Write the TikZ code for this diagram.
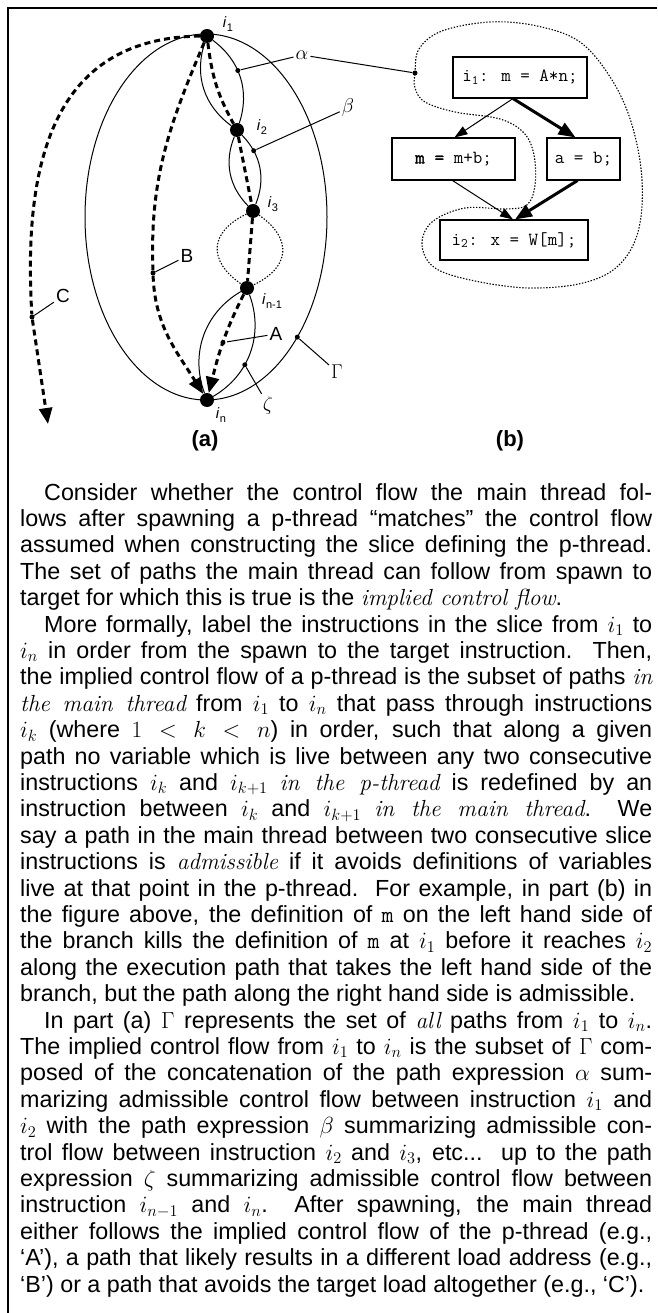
\documentclass[tikz,border=0pt]{standalone}
\usepackage{fix-cm}
\usepackage[no-math]{fontspec}
\setsansfont{Liberation Sans}
\newfontfamily\ttbold{lmmono10-regular.otf}[FakeBold=1.6]
\usetikzlibrary{arrows.meta}
\newlength\tw \setlength\tw{632pt}
\newlength\pind \setlength\pind{24pt}
\newcommand\jl[1]{\hbox to \tw{#1}}
\newcommand\el[1]{\hbox to \tw{#1\hfil}}
\newcommand\emi[1]{{\rmfamily\itshape #1}}
\newcommand\ilabel[1]{\textit{i}\kern0.3pt\raisebox{-3.5pt}{\fontsize{11}{11}\selectfont #1}}
\begin{document}
\begin{tikzpicture}[x=1pt,y=1pt,
  bigdot/.style={circle,fill=black,inner sep=0,minimum size=14pt},
  smalldot/.style={circle,fill=black,inner sep=0,minimum size=5pt},
  thinline/.style={line width=1pt},
  leader/.style={line width=1pt},
  dpath/.style={line width=3pt,dash pattern=on 6pt off 4pt},
  dotline/.style={line width=1.1pt,dash pattern=on 1.4pt off 1.6pt},
  bigtip/.style={-{Triangle[length=16pt,width=13pt]}},
  ilab/.style={font=\sffamily\fontsize{15}{15}\selectfont,inner sep=0},
  plab/.style={font=\sffamily\fontsize{19}{19}\selectfont,inner sep=2pt},
  glab/.style={font=\fontsize{20}{20}\selectfont,inner sep=2pt},
  captxt/.style={font=\sffamily\bfseries\fontsize{22}{22}\selectfont},
  cfg/.style={draw,line width=1.1pt,inner sep=0,font=\ttfamily\fontsize{18.5}{18.5}\selectfont},
  cfgthin/.style={line width=1pt,-{Triangle[length=13pt,width=9pt]}},
  cfgthick/.style={line width=3pt,-{Triangle[length=17pt,width=13pt]}}
]
\useasboundingbox (0,0) rectangle (657,-1313);
% frame
\draw[line width=2.6pt] (8,-1313) -- (8,-8) -- (657,-8);

% ---------- part (a) ----------
\draw[thinline] (206,-217) ellipse [x radius=121, y radius=183];
\node[smalldot] (gdot) at (297.3,-337.1) {};

\node[bigdot] (i1) at (207,-36) {};
\node[bigdot] (i2) at (237,-130) {};
\node[bigdot] (i3) at (253,-211) {};
\node[bigdot] (in1) at (247,-288) {};
\node[bigdot] (in) at (207,-400) {};

\node[ilab] (li1) at (228,-24) {\ilabel{1}};
\node[ilab] (li2) at (262,-127) {\ilabel{2}};
\node[ilab] (li3) at (273,-204) {\ilabel{3}};
\node[ilab] (lin1) at (272,-301) {\ilabel{n-1}};
\node[ilab] (lin) at (221,-415) {\ilabel{n}};

% alpha lens
\draw[thinline] (i1) to[out=251.7,in=143.7] (i2);
\draw[thinline] (i1) to[out=323.7,in=71.7] node[smalldot,pos=0.42] (adot) {} (i2);
% beta lens
\draw[thinline] (i2) to[out=248.2,in=134.2] (i3);
\draw[thinline] (i2) to[out=314.2,in=68.2] node[smalldot,pos=0.25] (bdot) {} (i3);
% dotted lens
\draw[dotline] (i3) to[out=205.5,in=145.5,looseness=1.5] (in1);
\draw[dotline] (i3) to[out=325.5,in=25.5,looseness=1.5] (in1);
% zeta lens
\draw[thinline] (in1) to[out=210.3,in=110.3] (in);
\draw[thinline] (in1) to[out=290.3,in=30.3] node[smalldot,pos=0.62] (zdot) {} (in);

% path A
\draw[dpath,bigtip] (i1) to[out=277,in=119] (i2) -- (i3) -- (in1)
   to[out=243,in=76] node[smalldot,pos=0.5] (Adot) {} (in);
% path B
\node[smalldot] (Bdot) at (153,-273) {};
\draw[dpath] (i1) to[out=247,in=92] (Bdot);
\draw[dpath,bigtip] (Bdot) to[out=272,in=122] (in);
% path C
\node[smalldot] (Cdot) at (32,-317) {};
\coordinate (Cend) at (48,-424);
\draw[dpath] (i1) .. controls (60,-38) and (22,-150) .. (Cdot);
\draw[dpath,bigtip] (Cdot) -- (Cend);

% labels
\node[glab] (alab) at (302,-55) {$\alpha$};
\node[glab] (blab) at (348,-108) {$\beta$};
\node[glab] (Glab) at (337,-372) {$\Gamma$};
\node[glab] (zlab) at (268,-405) {$\zeta$};
\node[plab] (Alab) at (276,-334) {A};
\node[plab] (Blab) at (187,-256) {B};
\node[plab] (Clab) at (63,-296) {C};

\draw[leader] (adot) -- (alab);
\draw[leader] (bdot) -- (blab);
\draw[leader] (gdot) -- (Glab);
\draw[leader] (zdot) -- (zlab);
\draw[leader] (Adot) -- (Alab);
\draw[leader] (Bdot) -- (Blab);
\draw[leader] (Cdot) -- (Clab);

% ---------- part (b) ----------
\node[cfg,minimum width=134pt,minimum height=41pt] (bi1) at (520,-77.5) {i\textsubscript{1}: m = A*n;};
\node[cfg,minimum width=123pt,minimum height=42pt] (bm) at (453.5,-159) {{\ttbold m =} m+b;};
\node[cfg,minimum width=73pt,minimum height=42pt] (ba) at (583.5,-159) {a = b;};
\node[cfg,minimum width=148pt,minimum height=40pt] (bi2) at (514,-240) {i\textsubscript{2}: x = W[m];};

\draw[cfgthin] ([xshift=-7pt]bi1.south) -- ([xshift=1pt]bm.north);
\draw[cfgthick] ([xshift=-7pt]bi1.south) -- ([xshift=-8pt]ba.north);
\draw[cfgthin] ([xshift=-1pt]bm.south) -- ([xshift=-1pt]bi2.north);
\draw[cfgthick] ([xshift=-6pt]ba.south) -- ([xshift=1pt]bi2.north);

\node[smalldot] (blobdot) at (415,-73) {};
\draw[dotline] plot[smooth cycle, tension=0.6] coordinates {
 (415,-73) (419,-49) (442,-31) (490,-22) (537,-26) (580,-42) (612,-80)
 (632,-125) (642,-180) (638,-232) (618,-266) (583,-283) (530,-288)
 (475,-281) (435,-268) (422,-245) (432,-222) (465,-208) (505,-209)
 (527,-205) (535,-185) (534,-155) (524,-133) (500,-119) (455,-112)
 (425,-102) (415,-88)};
\draw[leader] (alab) -- (blobdot);

\node[captxt] (capa) at (205,-441) {(a)};
\node[captxt] (capb) at (510,-441) {(b)};

% ---------- text ----------
\node[anchor=base west,inner sep=0] (body) at (20,-500) {\parbox[t]{\tw}{\sffamily\fontsize{23.3}{26.4}\selectfont
\jl{\hskip\pind Consider whether the control flow the main thread fol-}
\jl{lows after spawning a p-thread “matches” the control flow}
\jl{assumed when constructing the slice defining the p-thread.}
\jl{The set of paths the main thread can follow from spawn to}
\el{target for which this is true is the \emi{implied control flow}.}
\jl{\hskip\pind More formally, label the instructions in the slice from $i_1$ to}
\jl{$i_n$ in order from the spawn to the target instruction.\ \ Then,}
\jl{the implied control flow of a p-thread is the subset of paths \emi{in}}
\jl{\emi{the main thread} from $i_1$ to $i_n$ that pass through instructions}
\jl{$i_k$ (where $1 < k < n$) in order, such that along a given}
\jl{path no variable which is live between any two consecutive}
\jl{instructions $i_k$ and $i_{k+1}$ \emi{in the p-thread} is redefined by an}
\jl{instruction between $i_k$ and $i_{k+1}$ \emi{in the main thread}.\ \ We}
\jl{say a path in the main thread between two consecutive slice}
\jl{instructions is \emi{admissible} if it avoids definitions of variables}
\jl{live at that point in the p-thread.\ \ For example, in part (b) in}
\jl{the figure above, the definition of \texttt{m} on the left hand side of}
\jl{the branch kills the definition of \texttt{m} at $i_1$ before it reaches $i_2$}
\jl{along the execution path that takes the left hand side of the}
\el{branch, but the path along the right hand side is admissible.}
\jl{\hskip\pind In part (a) $\Gamma$ represents the set of \emi{all} paths from $i_1$ to $i_n$.}
\jl{The implied control flow from $i_1$ to $i_n$ is the subset of $\Gamma$ com-}
\jl{posed of the concatenation of the path expression $\alpha$ sum-}
\jl{marizing admissible control flow between instruction $i_1$ and}
\jl{$i_2$ with the path expression $\beta$ summarizing admissible con-}
\jl{trol flow between instruction $i_2$ and $i_3$, etc...\ \ up to the path}
\jl{expression $\zeta$ summarizing admissible control flow between}
\jl{instruction $i_{n-1}$ and $i_n$.\ \ After spawning, the main thread}
\jl{either follows the implied control flow of the p-thread (e.g.,}
\jl{‘A’), a path that likely results in a different load address (e.g.,}
\el{‘B’) or a path that avoids the target load altogether (e.g., ‘C’).}
}};
\end{tikzpicture}
\end{document}
